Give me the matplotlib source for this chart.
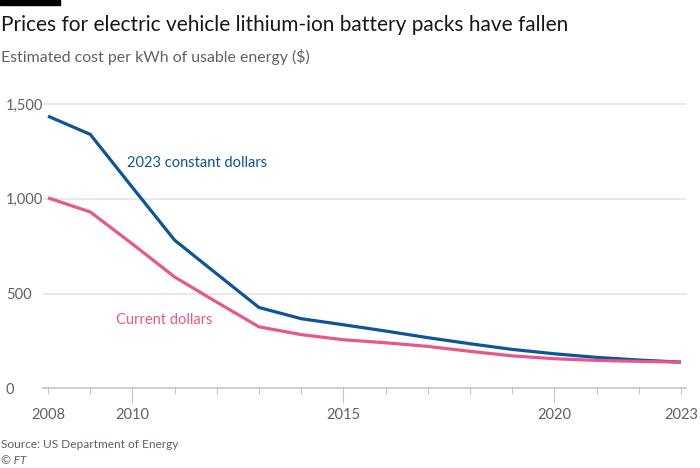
import matplotlib
matplotlib.use("Agg")
import matplotlib.pyplot as plt

years = list(range(2008, 2024))
constant_dollars = [1436, 1340, 1060, 782, 604, 427, 368, 336, 303, 268, 236, 206, 183, 164, 150, 139]
current_dollars = [1005, 931, 762, 588, 455, 325, 284, 257, 241, 222, 196, 172, 157, 148, 143, 139]
label_years = [2008, 2010, 2015, 2020, 2023]
y_ticks = [0, 500, 1000, 1500]

blue = '#0f5499'
pink = '#e8578c'
grey_text = '#66605c'

plt.rcParams['font.family'] = ['Lato', 'DejaVu Sans']

fig = plt.figure(figsize=(7, 4.68), dpi=100)
ax = fig.add_axes([0.0614, 0.1699, 0.9186, 0.620])

ax.plot(years, constant_dollars, color=blue, lw=2.3, solid_capstyle='butt', zorder=3)
ax.plot(years, current_dollars, color=pink, lw=2.3, solid_capstyle='butt', zorder=3)

ax.set_xlim(2007.88, 2023.12)
ax.set_ylim(0, 1530)

for s in ['top', 'right', 'left']:
    ax.spines[s].set_visible(False)
ax.spines['bottom'].set_color('#c8c6c2')
ax.spines['bottom'].set_linewidth(1.2)

ax.set_yticks(y_ticks)
ax.set_yticklabels(['{:,}'.format(v) for v in y_ticks])
ax.tick_params(axis='y', length=0, labelsize=10.5, labelcolor=grey_text, pad=0)
for lbl in ax.get_yticklabels():
    lbl.set_horizontalalignment('left')
    lbl.set_x(-0.058)
for v in y_ticks[1:]:
    ax.axhline(v, color='#e6e4e0', lw=1.2, zorder=1)

ax.set_xticks(label_years)
ax.set_xticklabels([str(y) for y in label_years])
ax.set_xticks(years, minor=True)
ax.tick_params(axis='x', which='major', length=11, width=0.8, color='#c8c6c2',
               labelsize=10.5, labelcolor=grey_text, pad=3)
ax.tick_params(axis='x', which='minor', length=4.5, width=0.8, color='#c8c6c2')
for t in ax.xaxis.get_major_ticks():
    if t.get_loc() in (2008, 2023):
        t.tick1line.set_markersize(4.5)

ax.text(2009.87, 1189, '2023 constant dollars', color=blue, fontsize=10.5, va='center', ha='left')
ax.text(2009.61, 361, 'Current dollars', color=pink, fontsize=10.5, va='center', ha='left')

fig.patches.append(plt.Rectangle((0, 1 - 5 / 468), 60 / 700, 5 / 468, transform=fig.transFigure,
                                 color='black', zorder=5))
fig.text(0.002, 1 - 25 / 468, 'Prices for electric vehicle lithium-ion battery packs have fallen',
         fontsize=15, color='#1a1817', va='center', ha='left')
fig.text(0.002, 1 - 57 / 468, 'Estimated cost per kWh of usable energy ($)',
         fontsize=11.4, color=grey_text, va='center', ha='left')
fig.text(0.002, 1 - 444 / 468, 'Source: US Department of Energy',
         fontsize=8.6, color=grey_text, va='center', ha='left')
fig.text(0.002, 1 - 460 / 468, '© FT', fontsize=8.6, color=grey_text, va='center', ha='left',
         style='italic')

fig.savefig('out.png', dpi=100, facecolor='white')
